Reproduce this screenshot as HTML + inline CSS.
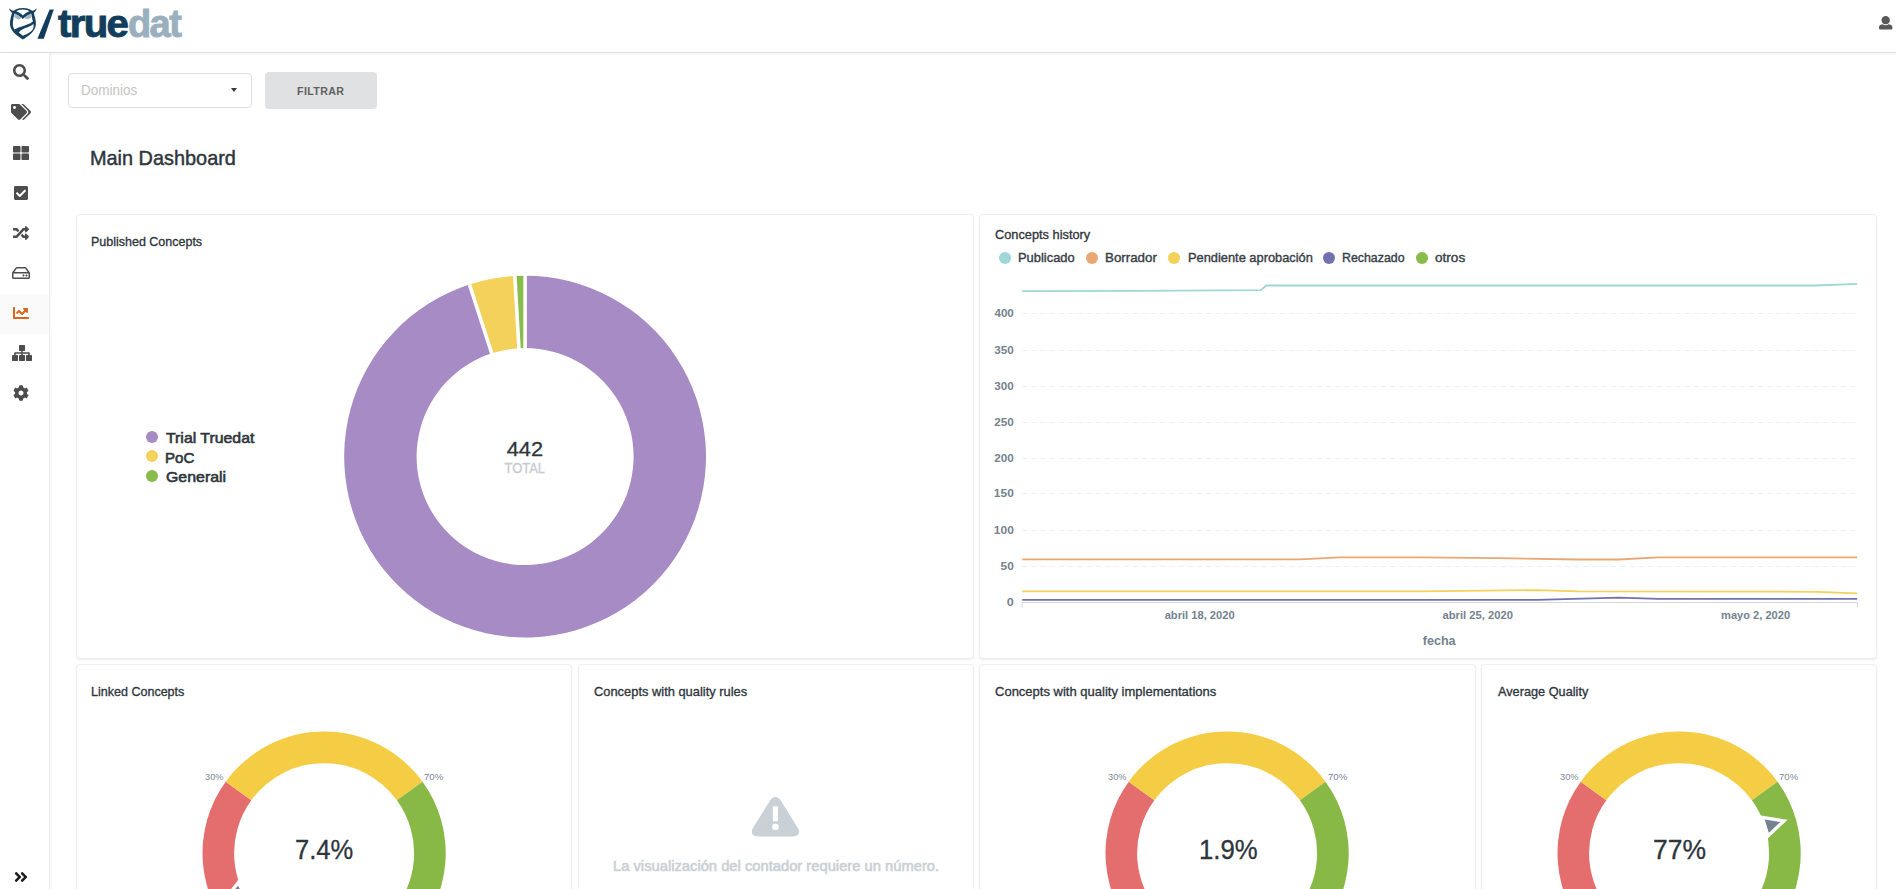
<!DOCTYPE html>
<html lang="es">
<head>
<meta charset="utf-8">
<title>truedat - Main Dashboard</title>
<style>
*{box-sizing:border-box;margin:0;padding:0}
h2{font-size:inherit;font-weight:inherit}
html,body{width:1896px;height:889px;overflow:hidden;background:#fff}
body{font-family:"Liberation Sans",sans-serif;color:#2e353b;position:relative}
.t{position:absolute;white-space:nowrap;line-height:1;transform-origin:0 0;display:block}
.ic{position:absolute;display:block}
.abs{position:absolute}
.topbar{position:absolute;left:0;top:0;width:1896px;height:53px;background:#fff;border-bottom:1px solid #e0e0e0;box-shadow:0 1px 2px rgba(34,36,38,.08)}
.sidebar{position:absolute;left:0;top:53px;width:50px;height:836px;background:#fff;border-right:1px solid #ececec;box-shadow:1px 0 2px rgba(34,36,38,.05)}
.active{position:absolute;left:0;top:293.5px;width:49px;height:40px;background:#fafafa}
.dropdown{position:absolute;left:68px;top:73px;width:184px;height:35px;border:1px solid #dededf;border-radius:4px;background:#fff}
.caret{position:absolute;left:230.8px;top:88.4px;width:0;height:0;border-left:3.9px solid transparent;border-right:3.9px solid transparent;border-top:4.3px solid #383838}
.btn{position:absolute;left:265px;top:72px;width:112px;height:36.5px;border-radius:4px;background:#e0e1e2}
.card{position:absolute;background:#fff;border:1px solid #eeeeee;border-radius:4px;box-shadow:0 1px 2px rgba(0,0,0,.07)}
.dot{position:absolute;width:12px;height:12px;border-radius:50%}
svg{overflow:visible}
svg text{font-family:"Liberation Sans",sans-serif}
</style>
</head>
<body>
<header class="topbar"></header>
<div class="logo">
<svg class="ic" style="left:6px;top:5px" width="34" height="38" viewBox="6 5 34 38">
<path fill="#15405e" d="M22.9 8.0 C27.5 8.0 31 9.6 33.4 12.0 C34.6 16 36.2 20.5 35.9 24.5 C35.3 31.500 28 36.3 22.9 39.6 C17.8 36.3 10.5 31.500 10 24.5 C9.7 20.5 11.2 16 12.4 12.0 C14.8 9.6 18.3 8.0 22.9 8.0Z"/>
<path fill="#fff" d="M22.9 9.4 C26.5 9.4 29.3 10.6 31.0 12.4 C31.5 15 32.2 18.5 32.9 21.6 C29.5 24.2 26 25.2 23.1 25.9 C20 26.7 17 27.7 14.7 29.5 C13.2 27.8 12.7 25.8 12.8 24.2 C12.9 20 13.9 15.5 14.8 12.4 C16.5 10.6 19.3 9.4 22.9 9.4Z"/>
<path fill="#fff" d="M33.4 23.9 C30.8 26 27.8 27.1 25.2 28.1 C22.5 29.2 20.3 30.6 18.8 32.5 L22.9 35.8 C25.5 34.6 29.5 32.8 31.7 30.7 C33.5 28.5 34 26.2 33.4 23.9Z"/>
<ellipse cx="17.8" cy="16.500" rx="3.6" ry="2.3" transform="rotate(22 17.8 16.5)" fill="#a4b8c6"/>
<ellipse cx="28.0" cy="16.500" rx="3.6" ry="2.3" transform="rotate(-22 28.0 16.5)" fill="#a4b8c6"/>
<path fill="#15405e" d="M9.0 8.2 C10.5 9.800 12.5 10.800 15 11 L13 13.5 C11 12.3 9.6 10.5 9.0 8.200Z"/>
<path fill="#15405e" d="M36.800 8.2 C35.3 9.800 33.3 10.800 30.800 11 L32.800 13.5 C34.800 12.3 36.2 10.5 36.800 8.200Z"/>
<path fill="#15405e" d="M13.3 13.3 L15.2 10.800 C17.5 11.5 20.5 13 22.9 15.5 C25.3 13 28.3 11.5 30.6 10.800 L32.5 13.3 C29 14 25.5 16 22.9 19.1 C20.3 16 16.800 14 13.3 13.300Z"/>
</svg>
<svg class="ic" style="left:37px;top:9px" width="18" height="30" viewBox="0 0 18 30"><path fill="#123d5c" d="M12.600 0.500 L16.800 0.500 L6.800 29.800 L0.400 29.800Z"/></svg>
<span class="t" style="left:57.97px;top:3px;font-size:38px;line-height:42px;font-weight:700;color:#123d5c;letter-spacing:-1.6px;-webkit-text-stroke:0.9px #123d5c;transform:scaleX(1.0572);">true</span>
<span class="t" style="left:128.03px;top:3px;font-size:38px;line-height:42px;font-weight:700;color:#9bb0be;letter-spacing:-1.6px;-webkit-text-stroke:0.9px #9bb0be;transform:scaleX(0.9998);">dat</span>
</div>
<svg class="ic" style="left:1878.80px;top:16.40px" width="13.40" height="13.40" viewBox="0 0 512 512"><path fill="#595959" d="M256 0c88.366 0 160 71.634 160 160s-71.634 160-160 160S96 248.366 96 160 167.634 0 256 0zm183.283 333.821l-71.313-17.828c-74.923 53.89-165.738 41.864-223.94 0l-71.313 17.828C29.981 344.505 0 382.903 0 426.955V464c0 26.51 21.49 48 48 48h416c26.51 0 48-21.49 48-48v-37.045c0-44.052-29.981-82.45-72.717-93.134z"/></svg>
<nav class="sidebar"></nav><div class="active"></div>
<svg class="ic" style="left:13.10px;top:64.00px" width="16.00" height="16.00" viewBox="0 0 512 512"><path fill="#4d4d4d" d="M505 442.7L405.3 343c-4.5-4.5-10.6-7-17-7H372c27.6-35.3 44-79.7 44-128C416 93.1 322.9 0 208 0S0 93.1 0 208s93.1 208 208 208c48.3 0 92.7-16.4 128-44v16.3c0 6.4 2.5 12.5 7 17l99.7 99.7c9.4 9.4 24.6 9.4 33.9 0l28.3-28.3c9.4-9.4 9.4-24.6.1-34zM208 336c-70.7 0-128-57.2-128-128 0-70.7 57.2-128 128-128 70.7 0 128 57.2 128 128 0 70.7-57.2 128-128 128z"/></svg>
<svg class="ic" style="left:11.10px;top:104.00px" width="20.00" height="16.00" viewBox="0 0 640 512"><path fill="#4d4d4d" d="M497.941 225.941L286.059 14.059A48 48 0 0 0 252.118 0H48C21.49 0 0 21.49 0 48v204.118a48 48 0 0 0 14.059 33.941l211.882 211.882c18.744 18.745 49.136 18.746 67.882 0l204.118-204.118c18.745-18.745 18.745-49.137 0-67.882zM112 160c-26.51 0-48-21.49-48-48s21.49-48 48-48 48 21.49 48 48-21.49 48-48 48zm513.941 133.823L421.823 497.941c-18.745 18.745-49.137 18.745-67.882 0l-.36-.36L527.64 323.522c16.999-16.999 26.36-39.6 26.36-63.64s-9.362-46.641-26.36-63.64L331.397 0h48.721a48 48 0 0 1 33.941 14.059l211.882 211.882c18.745 18.745 18.745 49.137 0 67.882z"/></svg>
<svg class="ic" style="left:13.10px;top:145.00px" width="16.00" height="16.00" viewBox="0 0 512 512"><path fill="#4d4d4d" d="M296 32h192c13.255 0 24 10.745 24 24v160c0 13.255-10.745 24-24 24H296c-13.255 0-24-10.745-24-24V56c0-13.255 10.745-24 24-24zm-80 0H24C10.745 32 0 42.745 0 56v160c0 13.255 10.745 24 24 24h192c13.255 0 24-10.745 24-24V56c0-13.255-10.745-24-24-24zM0 296v160c0 13.255 10.745 24 24 24h192c13.255 0 24-10.745 24-24V296c0-13.255-10.745-24-24-24H24c-13.255 0-24 10.745-24 24zm296 184h192c13.255 0 24-10.745 24-24V296c0-13.255-10.745-24-24-24H296c-13.255 0-24 10.745-24 24v160c0 13.255 10.745 24 24 24z"/></svg>
<svg class="ic" style="left:14.10px;top:185.00px" width="14.00" height="16.00" viewBox="0 0 448 512"><path fill="#4d4d4d" d="M400 480H48c-26.51 0-48-21.49-48-48V80c0-26.51 21.49-48 48-48h352c26.51 0 48 21.49 48 48v352c0 26.51-21.49 48-48 48zm-204.686-98.059l184-184c6.248-6.248 6.248-16.379 0-22.627l-22.627-22.627c-6.248-6.248-16.379-6.249-22.628 0L184 302.745l-70.059-70.059c-6.248-6.248-16.379-6.248-22.628 0l-22.627 22.627c-6.248 6.248-6.248 16.379 0 22.627l104 104c6.249 6.25 16.379 6.25 22.628.001z"/></svg>
<svg class="ic" style="left:13.10px;top:225.00px" width="16.00" height="16.00" viewBox="0 0 512 512"><path fill="#4d4d4d" d="M504.971 359.029c9.373 9.373 9.373 24.569 0 33.941l-80 79.984c-15.01 15.01-40.971 4.49-40.971-16.971V416h-58.785a12.004 12.004 0 0 1-8.773-3.812l-70.556-75.596 53.333-57.143L352 336h32v-39.981c0-21.438 25.943-31.998 40.971-16.971l80 79.981zM12 176h84l52.781 56.551 53.333-57.143-70.556-75.596A11.999 11.999 0 0 0 122.785 96H12c-6.627 0-12 5.373-12 12v56c0 6.627 5.373 12 12 12zm372 0v39.984c0 21.46 25.961 31.98 40.971 16.971l80-79.984c9.373-9.373 9.373-24.569 0-33.941l-80-79.981C409.943 24.021 384 34.582 384 56.019V96h-58.785a12.004 12.004 0 0 0-8.773 3.812L96 336H12c-6.627 0-12 5.373-12 12v56c0 6.627 5.373 12 12 12h110.785c3.326 0 6.503-1.381 8.773-3.812L352 176h32z"/></svg>
<svg class="ic" style="left:12.10px;top:265.00px" width="18.00" height="16.00" viewBox="0 0 576 512"><path fill="#4d4d4d" d="M567.403 235.642L462.323 84.589A48 48 0 0 0 422.919 64H153.081a48 48 0 0 0-39.404 20.589L8.597 235.642A48.001 48.001 0 0 0 0 263.054V400c0 26.51 21.49 48 48 48h480c26.51 0 48-21.49 48-48V263.054c0-9.801-3-19.366-8.597-27.412zM153.081 112h269.838l77.913 112H75.168l77.913-112zM528 400H48V272h480v128zm-32-64c0 17.673-14.327 32-32 32s-32-14.327-32-32 14.327-32 32-32 32 14.327 32 32zm-96 0c0 17.673-14.327 32-32 32s-32-14.327-32-32 14.327-32 32-32 32 14.327 32 32z"/></svg>
<svg class="ic" style="left:13.10px;top:305.00px" width="16.00" height="16.00" viewBox="0 0 512 512"><path fill="#d9661f" d="M496 384H64V80c0-8.84-7.16-16-16-16H16C7.16 64 0 71.16 0 80v336c0 17.67 14.33 32 32 32h464c8.84 0 16-7.16 16-16v-32c0-8.84-7.16-16-16-16zM464 96H345.94c-21.38 0-32.09 25.85-16.97 40.97l32.4 32.4L288 242.75l-73.37-73.37c-12.5-12.5-32.76-12.5-45.25 0l-68.69 68.69c-6.25 6.25-6.25 16.38 0 22.63l22.62 22.62c6.25 6.25 16.38 6.25 22.63 0L192 237.25l73.37 73.37c12.5 12.5 32.76 12.5 45.25 0l96-96 32.4 32.4c15.12 15.12 40.97 4.41 40.97-16.97V112c.01-8.84-7.15-16-15.99-16z"/></svg>
<svg class="ic" style="left:11.75px;top:345.00px" width="20" height="16" viewBox="0 0 640 512"><g fill="#4d4d4d"><rect x="224" y="0" width="192" height="192" rx="24"/><rect x="0" y="320" width="192" height="192" rx="24"/><rect x="224" y="320" width="192" height="192" rx="24"/><rect x="448" y="320" width="192" height="192" rx="24"/><rect x="296" y="180" width="48" height="150" rx="0"/><rect x="72" y="232" width="496" height="48" rx="20"/><rect x="72" y="256" width="48" height="74" rx="0"/><rect x="520" y="256" width="48" height="74" rx="0"/></g></svg>
<svg class="ic" style="left:13.10px;top:385.00px" width="16.00" height="16.00" viewBox="0 0 512 512"><path fill="#4d4d4d" d="M487.4 315.7l-42.6-24.6c4.3-23.2 4.3-47 0-70.2l42.6-24.6c4.9-2.8 7.1-8.6 5.5-14-11.1-35.6-30-67.8-54.7-94.6-3.8-4.1-10-5.1-14.8-2.3L380.8 110c-17.9-15.4-38.5-27.3-60.8-35.1V25.8c0-5.6-3.9-10.5-9.4-11.7-36.7-8.2-74.3-7.8-109.2 0-5.5 1.2-9.4 6.1-9.4 11.7V75c-22.2 7.9-42.8 19.8-60.8 35.1L88.7 85.5c-4.9-2.8-11-1.9-14.8 2.3-24.7 26.7-43.6 58.9-54.7 94.6-1.7 5.4.6 11.2 5.5 14L67.3 221c-4.3 23.2-4.3 47 0 70.2l-42.6 24.6c-4.9 2.8-7.1 8.6-5.5 14 11.1 35.6 30 67.8 54.7 94.6 3.8 4.1 10 5.1 14.8 2.3l42.6-24.600c17.9 15.4 38.5 27.3 60.8 35.1v49.2c0 5.6 3.9 10.5 9.4 11.7 36.7 8.2 74.3 7.8 109.2 0 5.5-1.2 9.4-6.1 9.4-11.7v-49.2c22.2-7.9 42.8-19.8 60.800-35.1l42.6 24.6c4.9 2.8 11 1.9 14.8-2.3 24.7-26.7 43.6-58.9 54.7-94.6 1.5-5.5-.7-11.3-5.6-14.1zM256 336c-44.1 0-80-35.9-80-80s35.9-80 80-80 80 35.9 80 80-35.9 80-80 80z"/></svg>
<svg class="ic" style="left:14.20px;top:869.00px" width="14.00" height="16.00" viewBox="0 0 448 512"><path fill="#1b1c1d" d="M224.3 273l-136 136c-9.4 9.4-24.6 9.4-33.9 0l-22.6-22.6c-9.4-9.4-9.4-24.6 0-33.9l96.4-96.4-96.4-96.4c-9.4-9.4-9.4-24.6 0-33.900L54.3 103c9.4-9.4 24.6-9.4 33.9 0l136 136c9.500 9.4 9.500 24.6.1 34zm192-34l-136-136c-9.4-9.4-24.6-9.4-33.900 0l-22.600 22.600c-9.4 9.4-9.4 24.6 0 33.900l96.4 96.4-96.4 96.4c-9.4 9.4-9.4 24.6 0 33.900l22.600 22.600c9.4 9.4 24.6 9.4 33.900 0l136-136c9.4-9.200 9.4-24.400 0-33.800z"/></svg>
<main>
<div class="filters">
<div class="dropdown"></div>
<span class="t" style="left:80.82px;top:82px;font-size:14px;line-height:16px;font-weight:400;color:#c4c4c4;transform:scaleX(0.9635);">Dominios</span>
<div class="caret"></div>
<div class="btn"></div>
<span class="t" style="left:296.91px;top:85px;font-size:11.5px;line-height:12px;font-weight:700;color:#606060;letter-spacing:0.4px;transform:scaleX(0.9271);">FILTRAR</span>
</div>
<h2>
<span class="t" style="left:90.42px;top:146px;font-size:21px;line-height:23px;font-weight:400;color:#2e353b;-webkit-text-stroke:0.45px #2e353b;transform:scaleX(0.9469);">Main Dashboard</span>
</h2>
<section>
<div class="card" style="left:76px;top:214px;width:898.0px;height:445.0px"></div>
<span class="t" style="left:91.35px;top:234px;font-size:13px;line-height:15px;font-weight:400;color:#2e353b;-webkit-text-stroke:0.32px #2e353b;transform:scaleX(0.9610);">Published Concepts</span>
<svg class="ic" style="left:0;top:0" width="1896" height="889" viewBox="0 0 1896 889">
<path fill="#a78bc5" d="M525.10 275.70 A180.9 180.9 0 1 1 469.44 284.47 L491.72 353.36 A108.5 108.5 0 1 0 525.10 348.10Z"/>
<path fill="#f3d15a" d="M469.44 284.47 A180.9 180.9 0 0 1 514.82 275.99 L518.93 348.28 A108.5 108.5 0 0 0 491.72 353.36Z"/>
<path fill="#88bc4b" d="M514.82 275.99 A180.9 180.9 0 0 1 525.10 275.70 L525.10 348.10 A108.5 108.5 0 0 0 518.93 348.28Z"/>
<line x1="525.10" y1="350.10" x2="525.10" y2="273.70" stroke="#fff" stroke-width="3.6"/>
<line x1="492.33" y1="355.27" x2="468.83" y2="282.57" stroke="#fff" stroke-width="3.6"/>
<line x1="519.05" y1="350.27" x2="514.71" y2="274.00" stroke="#fff" stroke-width="3.6"/>
<text x="506.66" y="456.00" font-size="21" font-weight="400" fill="#2e353b" textLength="36.40" lengthAdjust="spacingAndGlyphs" stroke="#2e353b" stroke-width="0.3">442</text>
<text x="504.54" y="473.00" font-size="14" font-weight="400" fill="#c5cbd1" textLength="40.45" lengthAdjust="spacingAndGlyphs" stroke="#c5cbd1" stroke-width="0.3">TOTAL</text>
</svg>
<div class="dot" style="left:146px;top:430.6px;background:#a78bc5"></div>
<span class="t" style="left:166.30px;top:429px;font-size:15px;line-height:17px;font-weight:400;color:#2e353b;-webkit-text-stroke:0.6px #2e353b;transform:scaleX(1.0566);">Trial Truedat</span>
<div class="dot" style="left:146px;top:450.4px;background:#f3d15a"></div>
<span class="t" style="left:165.40px;top:449px;font-size:15px;line-height:17px;font-weight:400;color:#2e353b;-webkit-text-stroke:0.6px #2e353b;transform:scaleX(1.0053);">PoC</span>
<div class="dot" style="left:146px;top:470.0px;background:#88bc4b"></div>
<span class="t" style="left:165.82px;top:468px;font-size:15px;line-height:17px;font-weight:400;color:#2e353b;-webkit-text-stroke:0.6px #2e353b;transform:scaleX(1.0598);">Generali</span>
</section>
<section>
<div class="card" style="left:979px;top:214px;width:898.0px;height:445.0px"></div>
<span class="t" style="left:995.12px;top:227px;font-size:13px;line-height:15px;font-weight:400;color:#2e353b;-webkit-text-stroke:0.32px #2e353b;transform:scaleX(0.9832);">Concepts history</span>
<div class="dot" style="left:998.9px;top:251.9px;background:#9fd6d8"></div>
<span class="t" style="left:1018.36px;top:250px;font-size:13.5px;line-height:15px;font-weight:400;color:#363e46;-webkit-text-stroke:0.4px #363e46;transform:scaleX(0.9562);">Publicado</span>
<div class="dot" style="left:1085.9px;top:251.9px;background:#e9a775"></div>
<span class="t" style="left:1105.13px;top:250px;font-size:13.5px;line-height:15px;font-weight:400;color:#363e46;-webkit-text-stroke:0.4px #363e46;transform:scaleX(0.9877);">Borrador</span>
<div class="dot" style="left:1168.4px;top:251.9px;background:#f3d15a"></div>
<span class="t" style="left:1187.76px;top:250px;font-size:13.5px;line-height:15px;font-weight:400;color:#363e46;-webkit-text-stroke:0.4px #363e46;transform:scaleX(0.9507);">Pendiente aprobación</span>
<div class="dot" style="left:1323.0px;top:251.9px;background:#7172ad"></div>
<span class="t" style="left:1342.19px;top:250px;font-size:13.5px;line-height:15px;font-weight:400;color:#363e46;-webkit-text-stroke:0.4px #363e46;transform:scaleX(0.9152);">Rechazado</span>
<div class="dot" style="left:1415.9px;top:251.9px;background:#88bc4b"></div>
<span class="t" style="left:1435.06px;top:250px;font-size:13.5px;line-height:15px;font-weight:400;color:#363e46;-webkit-text-stroke:0.4px #363e46;transform:scaleX(1.0059);">otros</span>
<svg class="ic" style="left:0;top:0" width="1896" height="889" viewBox="0 0 1896 889">
<line x1="1022.2" y1="566.5" x2="1857.2" y2="566.5" stroke="#edeff0" stroke-width="1" stroke-dasharray="5 4.2"/>
<line x1="1022.2" y1="530.5" x2="1857.2" y2="530.5" stroke="#edeff0" stroke-width="1" stroke-dasharray="5 4.2"/>
<line x1="1022.2" y1="493.5" x2="1857.2" y2="493.5" stroke="#edeff0" stroke-width="1" stroke-dasharray="5 4.2"/>
<line x1="1022.2" y1="458.5" x2="1857.2" y2="458.5" stroke="#edeff0" stroke-width="1" stroke-dasharray="5 4.2"/>
<line x1="1022.2" y1="422.5" x2="1857.2" y2="422.5" stroke="#edeff0" stroke-width="1" stroke-dasharray="5 4.2"/>
<line x1="1022.2" y1="386.5" x2="1857.2" y2="386.5" stroke="#edeff0" stroke-width="1" stroke-dasharray="5 4.2"/>
<line x1="1022.2" y1="350.5" x2="1857.2" y2="350.5" stroke="#edeff0" stroke-width="1" stroke-dasharray="5 4.2"/>
<line x1="1022.2" y1="313.5" x2="1857.2" y2="313.5" stroke="#edeff0" stroke-width="1" stroke-dasharray="5 4.2"/>
<text x="1006.79" y="606.00" font-size="11.5" font-weight="700" fill="#74838f" textLength="7.03" lengthAdjust="spacingAndGlyphs" >0</text>
<text x="1000.54" y="570.00" font-size="11.5" font-weight="700" fill="#74838f" textLength="13.26" lengthAdjust="spacingAndGlyphs" >50</text>
<text x="993.88" y="534.00" font-size="11.5" font-weight="700" fill="#74838f" textLength="19.94" lengthAdjust="spacingAndGlyphs" >100</text>
<text x="993.88" y="497.00" font-size="11.5" font-weight="700" fill="#74838f" textLength="19.94" lengthAdjust="spacingAndGlyphs" >150</text>
<text x="994.19" y="462.00" font-size="11.5" font-weight="700" fill="#74838f" textLength="19.62" lengthAdjust="spacingAndGlyphs" >200</text>
<text x="994.19" y="426.00" font-size="11.5" font-weight="700" fill="#74838f" textLength="19.62" lengthAdjust="spacingAndGlyphs" >250</text>
<text x="994.31" y="390.00" font-size="11.5" font-weight="700" fill="#74838f" textLength="19.50" lengthAdjust="spacingAndGlyphs" >300</text>
<text x="994.31" y="354.00" font-size="11.5" font-weight="700" fill="#74838f" textLength="19.50" lengthAdjust="spacingAndGlyphs" >350</text>
<text x="994.43" y="317.00" font-size="11.5" font-weight="700" fill="#74838f" textLength="19.38" lengthAdjust="spacingAndGlyphs" >400</text>
<path d="M1022.1 607.500 V602.500 H1857.5 V607.500" fill="none" stroke="#d2d5e2" stroke-width="1"/>
<polyline points="1022.2,291.1 1140.0,290.9 1260.6,290.2 1266.4,285.5 1816.0,285.5 1857.2,283.9" fill="none" stroke="#9fd6d8" stroke-width="1.8" stroke-linejoin="round" stroke-linecap="butt"/>
<polyline points="1022.2,559.3 1300.0,559.3 1339.5,557.4 1420.0,557.4 1500.0,558.2 1579.0,559.5 1618.7,559.5 1658.0,557.4 1857.2,557.4" fill="none" stroke="#e9a775" stroke-width="1.8" stroke-linejoin="round" stroke-linecap="butt"/>
<polyline points="1022.2,591.3 1420.0,591.3 1537.5,590.1 1579.0,591.3 1817.0,591.8 1857.2,593.4" fill="none" stroke="#f3d15a" stroke-width="1.8" stroke-linejoin="round" stroke-linecap="butt"/>
<polyline points="1022.2,599.9 1537.5,599.9 1618.7,597.6 1658.0,598.9 1857.2,598.9" fill="none" stroke="#7172ad" stroke-width="1.8" stroke-linejoin="round" stroke-linecap="butt"/>
<text x="1164.67" y="619.00" font-size="11.2" font-weight="700" fill="#74838f" textLength="70.01" lengthAdjust="spacingAndGlyphs" >abril 18, 2020</text>
<text x="1442.56" y="619.00" font-size="11.2" font-weight="700" fill="#74838f" textLength="70.41" lengthAdjust="spacingAndGlyphs" >abril 25, 2020</text>
<text x="1721.08" y="619.00" font-size="11.2" font-weight="700" fill="#74838f" textLength="68.98" lengthAdjust="spacingAndGlyphs" >mayo 2, 2020</text>
<text x="1422.71" y="645.00" font-size="13" font-weight="700" fill="#74838f" textLength="32.89" lengthAdjust="spacingAndGlyphs" >fecha</text>
</svg>
</section>
<section>
<div class="card" style="left:76px;top:664px;width:496.0px;height:236.0px"></div>
<span class="t" style="left:91.35px;top:684px;font-size:13px;line-height:15px;font-weight:400;color:#2e353b;-webkit-text-stroke:0.32px #2e353b;transform:scaleX(0.9637);">Linked Concepts</span>
<svg class="ic" style="left:189.09px;top:717.99px" width="270.22" height="270.22" viewBox="0 0 100 100">
<path fill="#e46e6e" d="M18.180 81.820 A45.0 45.0 0 0 1 13.594 23.550 L23.060 30.427 A33.300 33.300 0 0 0 26.453 73.547Z"/>
<path fill="#f4cd45" d="M13.594 23.550 A45.0 45.0 0 0 1 86.406 23.550 L76.940 30.427 A33.300 33.300 0 0 0 23.060 30.427Z"/>
<path fill="#88b946" d="M86.406 23.550 A45.0 45.0 0 0 1 81.820 81.820 L73.547 73.547 A33.300 33.300 0 0 0 76.940 30.427Z"/>
<path d="M-3.567 0 L0 -7.313 L3.567 0 Z" transform="translate(50,50) rotate(-115.02) translate(0,-33.300)" stroke="#fff" stroke-width="1.25" fill="#74838f"/>
</svg>
<span class="t" style="left:204.93px;top:771px;font-size:9.6px;line-height:11px;font-weight:400;color:#7d8995;transform:scaleX(0.9632);">30%</span>
<span class="t" style="left:424.32px;top:771px;font-size:9.6px;line-height:11px;font-weight:400;color:#7d8995;transform:scaleX(1.0009);">70%</span>
<span class="t" style="left:294.76px;top:834px;font-size:28px;line-height:31px;font-weight:400;color:#2e353b;-webkit-text-stroke:0.3px #2e353b;transform:scaleX(0.9132);">7.4%</span>
</section>
<section>
<div class="card" style="left:578px;top:664px;width:396.0px;height:236.0px"></div>
<span class="t" style="left:593.51px;top:684px;font-size:13px;line-height:15px;font-weight:400;color:#2e353b;-webkit-text-stroke:0.32px #2e353b;transform:scaleX(0.9906);">Concepts with quality rules</span>
<svg class="ic" style="left:752.0px;top:794.1px" width="46.8" height="46.8" viewBox="0 0 32 32">
<path fill="#c9d0d6" d="M12.307 4.523 C14.346 1.244 17.653 1.245 19.692 4.523 L31.225 23.064 C33.264 26.342 31.789 29 27.912 29 L4.087 29 C0.218 29 -1.266 26.341 0.773 23.064Z"/>
<rect x="14.250" y="8.300" width="3.500" height="10.400" rx="0.600" fill="#fff"/><circle cx="16" cy="22.600" r="2.250" fill="#fff"/></svg>
<span class="t" style="left:613.12px;top:857px;font-size:15px;line-height:17px;font-weight:400;color:#c9d0d6;-webkit-text-stroke:0.6px #c9d0d6;transform:scaleX(0.9826);">La visualización del contador requiere un número.</span>
</section>
<section>
<div class="card" style="left:979px;top:664px;width:497.0px;height:236.0px"></div>
<span class="t" style="left:995.01px;top:684px;font-size:13px;line-height:15px;font-weight:400;color:#2e353b;-webkit-text-stroke:0.32px #2e353b;transform:scaleX(1.0007);">Concepts with quality implementations</span>
<svg class="ic" style="left:1092.39px;top:717.99px" width="270.22" height="270.22" viewBox="0 0 100 100">
<path fill="#e46e6e" d="M18.180 81.820 A45.0 45.0 0 0 1 13.594 23.550 L23.060 30.427 A33.300 33.300 0 0 0 26.453 73.547Z"/>
<path fill="#f4cd45" d="M13.594 23.550 A45.0 45.0 0 0 1 86.406 23.550 L76.940 30.427 A33.300 33.300 0 0 0 23.060 30.427Z"/>
<path fill="#88b946" d="M86.406 23.550 A45.0 45.0 0 0 1 81.820 81.820 L73.547 73.547 A33.300 33.300 0 0 0 76.940 30.427Z"/>
<path d="M-3.567 0 L0 -7.313 L3.567 0 Z" transform="translate(50,50) rotate(-129.87) translate(0,-33.300)" stroke="#fff" stroke-width="1.25" fill="#74838f"/>
</svg>
<span class="t" style="left:1108.23px;top:771px;font-size:9.6px;line-height:11px;font-weight:400;color:#7d8995;transform:scaleX(0.9632);">30%</span>
<span class="t" style="left:1327.62px;top:771px;font-size:9.6px;line-height:11px;font-weight:400;color:#7d8995;transform:scaleX(1.0009);">70%</span>
<span class="t" style="left:1198.61px;top:834px;font-size:28px;line-height:31px;font-weight:400;color:#2e353b;-webkit-text-stroke:0.3px #2e353b;transform:scaleX(0.9204);">1.9%</span>
</section>
<section>
<div class="card" style="left:1481px;top:664px;width:396.0px;height:236.0px"></div>
<span class="t" style="left:1497.86px;top:684px;font-size:13px;line-height:15px;font-weight:400;color:#2e353b;-webkit-text-stroke:0.32px #2e353b;transform:scaleX(0.9789);">Average Quality</span>
<svg class="ic" style="left:1543.89px;top:717.99px" width="270.22" height="270.22" viewBox="0 0 100 100">
<path fill="#e46e6e" d="M18.180 81.820 A45.0 45.0 0 0 1 13.594 23.550 L23.060 30.427 A33.300 33.300 0 0 0 26.453 73.547Z"/>
<path fill="#f4cd45" d="M13.594 23.550 A45.0 45.0 0 0 1 86.406 23.550 L76.940 30.427 A33.300 33.300 0 0 0 23.060 30.427Z"/>
<path fill="#88b946" d="M86.406 23.550 A45.0 45.0 0 0 1 81.820 81.820 L73.547 73.547 A33.300 33.300 0 0 0 76.940 30.427Z"/>
<path d="M-3.567 0 L0 -7.313 L3.567 0 Z" transform="translate(50,50) rotate(72.90) translate(0,-33.300)" stroke="#fff" stroke-width="1.25" fill="#74838f"/>
</svg>
<span class="t" style="left:1559.73px;top:771px;font-size:9.6px;line-height:11px;font-weight:400;color:#7d8995;transform:scaleX(0.9632);">30%</span>
<span class="t" style="left:1779.12px;top:771px;font-size:9.6px;line-height:11px;font-weight:400;color:#7d8995;transform:scaleX(1.0009);">70%</span>
<span class="t" style="left:1652.92px;top:834px;font-size:28px;line-height:31px;font-weight:400;color:#2e353b;-webkit-text-stroke:0.3px #2e353b;transform:scaleX(0.9477);">77%</span>
</section>
</main>
</body>
</html>
